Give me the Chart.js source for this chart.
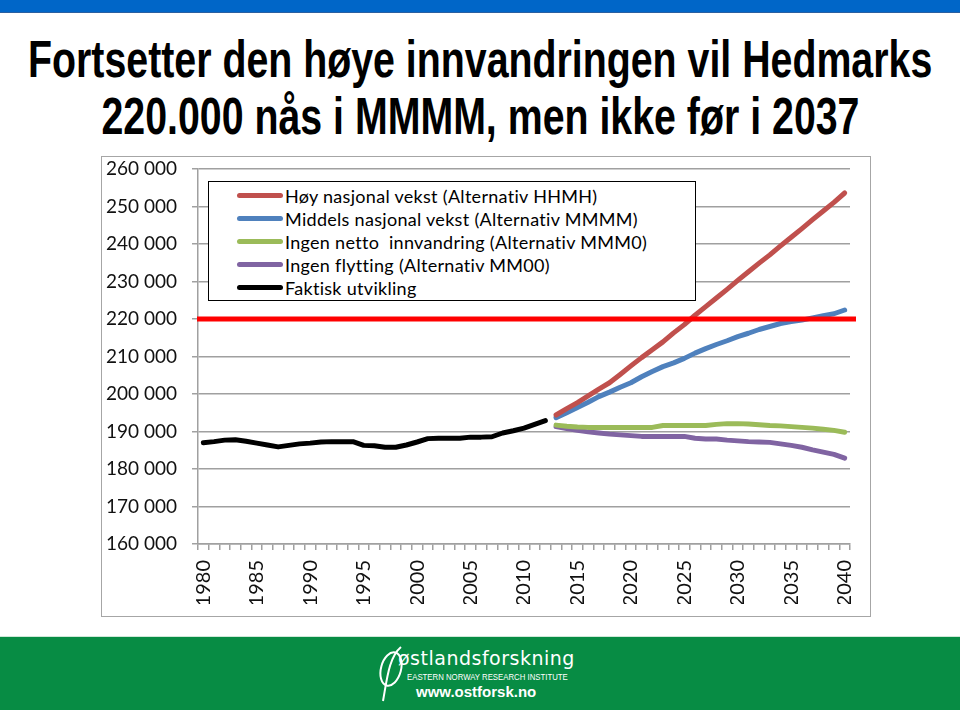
<!DOCTYPE html>
<html>
<head>
<meta charset="utf-8">
<script src="https://cdn.jsdelivr.net/npm/chart.js@4.4.1/dist/chart.umd.min.js"></script>
<style>
  html, body { margin: 0; padding: 0; background: #fff; }
  body { width: 960px; height: 710px; position: relative; overflow: hidden; font-family: Lato, 'Open Sans', sans-serif; }
  .topbar { position: absolute; left: 0; top: 0; width: 960px; height: 12px; background: #0066c8; border-bottom: 1px solid #2a5fa0; }
  .tline { position: absolute; left: 0; top: 0; font-family: 'Liberation Sans', sans-serif; font-weight: bold; font-size: 52px; color: #000; line-height: 57px; white-space: nowrap; transform-origin: 50% 50%; }
  .frame { position: absolute; left: 101px; top: 156px; width: 768px; height: 459px; border: 1.5px solid #a6a6a6; }
  canvas { position: absolute; left: 0; top: 0; }
  .legend { position: absolute; left: 208px; top: 181px; width: 486px; height: 118px; border: 1.5px solid #000; background: #fff; }
  .legend .item { position: absolute; left: 0; height: 23px; display: flex; align-items: center; font-size: 18px; letter-spacing: 0.3px; color: #000; white-space: nowrap; }
  .legend .swatch { width: 46px; height: 5px; border-radius: 3px; margin-left: 28px; margin-right: 2px; }
  .footer { position: absolute; left: 0; top: 636px; width: 960px; height: 74px; background: #078c44; border-top: 1px solid #cfe8d8; color: #fff; }
  .footer .name { position: absolute; left: 398px; top: 10px; font-family: 'DejaVu Sans', sans-serif; font-size: 19px; letter-spacing: 0.5px; }
  .footer .inst { position: absolute; left: 407px; top: 34px; font-family: 'Liberation Sans', sans-serif; font-size: 9.5px; transform: scaleX(0.82); transform-origin: 0 50%; white-space: nowrap; }
  .footer .www { position: absolute; left: 416px; top: 46px; font-family: 'Liberation Sans', sans-serif; font-weight: bold; font-size: 15px; }
  .footer svg { position: absolute; left: 377px; top: 6px; }
</style>
</head>
<body>
<div class="topbar"></div>
<div class="tline" id="t1" style="top:31px">Fortsetter den høye innvandringen vil Hedmarks</div>
<div class="tline" id="t2" style="top:88px">220.000 nås i MMMM, men ikke før i 2037</div>
<div class="frame"></div>
<canvas id="chart" width="960" height="710"></canvas>
<div class="legend" id="legend"></div>
<div class="footer">
  <svg width="30" height="62" viewBox="0 0 30 62">
    <ellipse cx="14" cy="26" rx="10" ry="17" fill="none" stroke="#fff" stroke-width="2" transform="rotate(15 14 26)"/>
    <path d="M24 4 C 12 14, 10 36, 6 58" fill="none" stroke="#fff" stroke-width="2"/>
  </svg>
  <div class="name">østlandsforskning</div>
  <div class="inst">EASTERN NORWAY RESEARCH INSTITUTE</div>
  <div class="www">www.ostforsk.no</div>
</div>
<script>
// years 1980..2040
const years = []
for (let y = 1980; y <= 2040; y++) years.push(y)

// Faktisk utvikling 1980-2012
const actual = [
  187000, 187300, 187700, 187800, 187400, 186900, 186400, 185900, 186300, 186700,
  186900, 187200, 187300, 187300, 187300, 186300, 186200, 185800, 185800, 186400,
  187200, 188100, 188200, 188200, 188200, 188500, 188500, 188600, 189600, 190200,
  190900, 191900, 192900,
]

// projections 2013-2040
const highHHMH = [
  194400, 196100, 197700, 199500, 201300, 203000, 205200, 207500, 209700, 211800,
  213900, 216300, 218500, 221000, 223300, 225600, 227900, 230300, 232600, 234900,
  237100, 239500, 241800, 244100, 246500, 248800, 251100, 253600,
]
const mainMMMM = [
  193700, 195000, 196400, 197800, 199300, 200500, 201800, 203000, 204600, 206000,
  207300, 208300, 209500, 210900, 212100, 213200, 214200, 215300, 216200, 217200,
  218000, 218800, 219300, 219700, 220300, 220900, 221400, 222400,
]
const noNetMMM0 = [
  191700, 191400, 191200, 191100, 191100, 191100, 191100, 191100, 191100, 191100,
  191600, 191600, 191600, 191600, 191600, 191900, 192100, 192100, 192000, 191800,
  191600, 191500, 191300, 191100, 190900, 190600, 190300, 189800,
]
const noMoveMM00 = [
  191300, 190800, 190300, 189900, 189600, 189300, 189100, 188900, 188700, 188700,
  188700, 188700, 188700, 188200, 188000, 188000, 187700, 187500, 187300, 187200,
  187100, 186700, 186300, 185800, 185100, 184500, 183900, 182900,
]

const target = 220000
const yTicks = { min: 160000, max: 260000, step: 10000 }

const seriesNames = [
  'Høy nasjonal vekst (Alternativ HHMH)',
  'Middels nasjonal vekst (Alternativ MMMM)',
  'Ingen netto  innvandring (Alternativ MMM0)',
  'Ingen flytting (Alternativ MM00)',
  'Faktisk utvikling',
]
const seriesColors = ['#c0504d', '#4f81bd', '#9bbb59', '#8064a2', '#000000']

const projStart = years.indexOf(2013)
const pad = (arr, start) => years.map((_, i) => (i >= start && i - start < arr.length ? arr[i - start] : null))

const seriesData = [
  pad(highHHMH, projStart),
  pad(mainMMMM, projStart),
  pad(noNetMMM0, projStart),
  pad(noMoveMM00, projStart),
  pad(actual, 0),
]

// squeeze the title into the narrow look of the original, centred on the page
const t1 = document.getElementById('t1')
const t2 = document.getElementById('t2')
const k = 904 / t1.offsetWidth
for (const t of [t1, t2]) {
  t.style.left = (480 - t.offsetWidth / 2) + 'px'
  t.style.transform = `scaleX(${k})`
}

// html legend
const legend = document.getElementById('legend')
seriesNames.forEach((name, i) => {
  const row = document.createElement('div')
  row.className = 'item'
  row.style.top = (2 + i * 23) + 'px'
  row.innerHTML = `<span class="swatch" style="background:${seriesColors[i]}"></span><span>${name.replace(/  /g, ' &nbsp;')}</span>`
  legend.appendChild(row)
})

const targetLine = {
  id: 'targetLine',
  afterDatasetsDraw(chart) {
    const { ctx, chartArea, scales } = chart
    const y = scales.y.getPixelForValue(target)
    ctx.save()
    ctx.strokeStyle = '#ff0000'
    ctx.lineWidth = 5
    ctx.beginPath()
    ctx.moveTo(chartArea.left - 1, y)
    ctx.lineTo(chartArea.right + 6, y)
    ctx.stroke()
    ctx.restore()
  },
}

const fmt = (v) => {
  const s = String(v)
  return s.slice(0, s.length - 3) + ' ' + s.slice(-3)
}

new Chart(document.getElementById('chart'), {
  type: 'line',
  data: {
    labels: years,
    datasets: seriesData.map((d, i) => ({
      label: seriesNames[i],
      data: d,
      borderColor: seriesColors[i],
      backgroundColor: seriesColors[i],
      borderWidth: 5,
      borderCapStyle: 'round',
      borderJoinStyle: 'round',
      pointRadius: 0,
      tension: 0,
      spanGaps: false,
    })),
  },
  options: {
    responsive: false,
    animation: false,
    layout: { padding: { left: 0, top: 169, right: 110, bottom: 106 } },
    plugins: { legend: { display: false }, tooltip: { enabled: false } },
    scales: {
      x: {
        type: 'category',
        offset: true,
        afterFit: (s) => { s.height = 60 },
        grid: { drawOnChartArea: false, offset: true, tickLength: 6, color: '#a0a0a0', lineWidth: 1.5 },
        border: { color: '#a0a0a0', width: 1.5 },
        ticks: {
          autoSkip: false,
          maxRotation: 90,
          minRotation: 90,
          padding: 10,
          color: '#111',
          font: { family: 'Lato', size: 20 },
          callback: (v, i) => (years[i] % 5 === 0 ? String(years[i]) : ''),
        },
      },
      y: {
        min: yTicks.min,
        max: yTicks.max,
        afterFit: (s) => { s.width = 198 },
        grid: { color: '#a0a0a0', lineWidth: 1.5, tickLength: 6 },
        border: { color: '#a0a0a0', width: 1.5 },
        ticks: {
          stepSize: yTicks.step,
          padding: 15,
          color: '#111',
          font: { family: 'Lato', size: 19 },
          callback: (v) => fmt(v),
        },
      },
    },
  },
  plugins: [targetLine],
})
</script>
</body>
</html>
